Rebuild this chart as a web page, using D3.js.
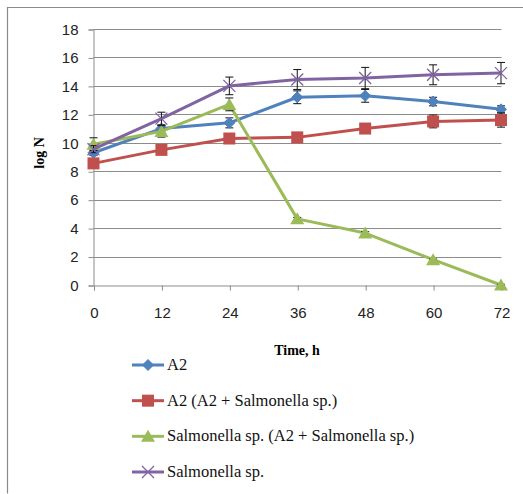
<!DOCTYPE html>
<html>
<head>
<meta charset="utf-8">
<script src="https://cdn.jsdelivr.net/npm/d3@7"></script>
<style>
  html, body { margin: 0; padding: 0; background: #fff; }
  svg { display: block; }
</style>
</head>
<body>
<svg id="chart" width="523" height="494"></svg>
<script>
// Sampling times (hours) and tick values
const hours = [0, 12, 24, 36, 48, 60, 72];
const yTicks = [0, 2, 4, 6, 8, 10, 12, 14, 16, 18];

// log N counts per series
const a2 = [9.3, 11.0, 11.4, 13.2, 13.3, 12.9, 12.35];
const a2Mixed = [8.55, 9.5, 10.3, 10.38, 11.0, 11.5, 11.6];
const salmMixed = [9.9, 10.8, 12.7, 4.65, 3.65, 1.78, 0.0];
const salm = [9.55, 11.7, 14.0, 14.45, 14.55, 14.78, 14.9];

// Standard deviations
const a2Err = [0.2, 0.25, 0.35, 0.45, 0.45, 0.3, 0.25];
const a2MixedErr = [0.2, 0.2, 0.2, 0.2, 0.25, 0.45, 0.5];
const salmMixedErr = [0.45, 0.4, 0.45, 0.1, 0.1, 0.05, 0.05];
const salmErr = [0.25, 0.45, 0.62, 0.7, 0.75, 0.7, 0.75];

const seriesNames = [
  "A2",
  "A2 (A2 + Salmonella sp.)",
  "Salmonella sp. (A2 + Salmonella sp.)",
  "Salmonella sp."
];

const series = [
  { name: seriesNames[0], values: a2, err: a2Err, color: "#4F81BD", marker: "diamond" },
  { name: seriesNames[1], values: a2Mixed, err: a2MixedErr, color: "#C0504D", marker: "square" },
  { name: seriesNames[2], values: salmMixed, err: salmMixedErr, color: "#9BBB59", marker: "triangle" },
  { name: seriesNames[3], values: salm, err: salmErr, color: "#8064A2", marker: "cross" }
];

const svg = d3.select("#chart");

// Outer chart frame
svg.append("path")
  .attr("d", "M7.5,493.5 V7.5 H523")
  .attr("fill", "none")
  .attr("stroke", "#8a8a8a")
  .attr("stroke-width", 1.2);

const x = d3.scalePoint().domain(hours).range([93.5, 501]);
const y = d3.scaleLinear().domain([0, 18]).range([285, 29]);

const serif = "'Liberation Serif', 'Times New Roman', serif";
const sans = "'Liberation Sans', Arial, sans-serif";

// Horizontal gridlines
svg.append("g")
  .selectAll("line")
  .data(yTicks.filter(d => d > 0))
  .join("line")
  .attr("x1", 93.5).attr("x2", 501.5)
  .attr("y1", d => Math.round(y(d)) + 0.5)
  .attr("y2", d => Math.round(y(d)) + 0.5)
  .attr("stroke", "#8c8c8c")
  .attr("stroke-width", 1);

// Y axis
const yAxis = svg.append("g")
  .attr("transform", "translate(93.5,0.5)")
  .call(d3.axisLeft(y).tickValues(yTicks).tickSize(5).tickPadding(10).tickFormat(d3.format("d")));
yAxis.select(".domain").attr("stroke", "#8c8c8c");
yAxis.selectAll(".tick line").attr("stroke", "#8c8c8c");
yAxis.selectAll("text")
  .attr("font-family", sans).attr("font-size", 15).attr("fill", "#222");

// X axis
const xAxis = svg.append("g")
  .attr("transform", "translate(0.5,285.5)")
  .call(d3.axisBottom(x).tickSize(5).tickPadding(17).tickFormat(d3.format("d")));
xAxis.select(".domain").attr("stroke", "#8c8c8c");
xAxis.selectAll(".tick line").attr("stroke", "#8c8c8c");
xAxis.selectAll("text")
  .attr("font-family", sans).attr("font-size", 15).attr("fill", "#222");

// Axis titles
svg.append("text")
  .attr("transform", "translate(44,153) rotate(-90)")
  .attr("text-anchor", "middle")
  .attr("font-family", serif).attr("font-weight", "bold").attr("font-size", 14)
  .text("log N");

svg.append("text")
  .attr("x", 297).attr("y", 355)
  .attr("text-anchor", "middle")
  .attr("font-family", serif).attr("font-weight", "bold").attr("font-size", 14)
  .text("Time, h");

// Marker drawing
function drawMarker(g, type, color, cx, cy) {
  if (type === "diamond") {
    g.append("path")
      .attr("d", `M${cx},${cy - 5.5} L${cx + 5.5},${cy} L${cx},${cy + 5.5} L${cx - 5.5},${cy} Z`)
      .attr("fill", color).attr("stroke", color).attr("stroke-width", 1);
  } else if (type === "square") {
    g.append("rect")
      .attr("x", cx - 6).attr("y", cy - 6).attr("width", 12).attr("height", 12)
      .attr("fill", color);
  } else if (type === "triangle") {
    g.append("path")
      .attr("d", `M${cx},${cy - 6.5} L${cx + 7},${cy + 5.5} L${cx - 7},${cy + 5.5} Z`)
      .attr("fill", color);
  } else if (type === "cross") {
    g.append("path")
      .attr("d", `M${cx - 6},${cy - 6} L${cx + 6},${cy + 6} M${cx - 6},${cy + 6} L${cx + 6},${cy - 6}`)
      .attr("stroke", color).attr("stroke-width", 1.3).attr("fill", "none");
  }
}

const line = d3.line().x((d, i) => x(hours[i])).y(d => y(d));

series.forEach(s => {
  const g = svg.append("g");
  g.append("path")
    .attr("d", line(s.values))
    .attr("fill", "none")
    .attr("stroke", s.color)
    .attr("stroke-width", 3)
    .attr("stroke-linejoin", "round");

  // Error bars
  const eb = g.append("g").attr("stroke", "#111").attr("stroke-width", 1);
  s.values.forEach((v, i) => {
    const cx = x(hours[i]);
    const top = y(v + s.err[i]);
    const bot = y(v - s.err[i]);
    eb.append("line").attr("x1", cx).attr("x2", cx).attr("y1", top).attr("y2", bot);
    eb.append("line").attr("x1", cx - 4).attr("x2", cx + 4).attr("y1", top).attr("y2", top);
    eb.append("line").attr("x1", cx - 4).attr("x2", cx + 4).attr("y1", bot).attr("y2", bot);
  });

  s.values.forEach((v, i) => drawMarker(g, s.marker, s.color, x(hours[i]), y(v)));
});

// Legend
const legend = svg.append("g");
const legendY = d3.scalePoint().domain(seriesNames).range([365, 472]);
series.forEach(s => {
  const ly = legendY(s.name);
  legend.append("line")
    .attr("x1", 132).attr("x2", 164).attr("y1", ly).attr("y2", ly)
    .attr("stroke", s.color).attr("stroke-width", 3);
  drawMarker(legend, s.marker, s.color, 148, ly);
  legend.append("text")
    .attr("x", 167).attr("y", ly + 5)
    .attr("font-family", serif).attr("font-size", 16.5).attr("fill", "#111")
    .text(s.name);
});
</script>
</body>
</html>
